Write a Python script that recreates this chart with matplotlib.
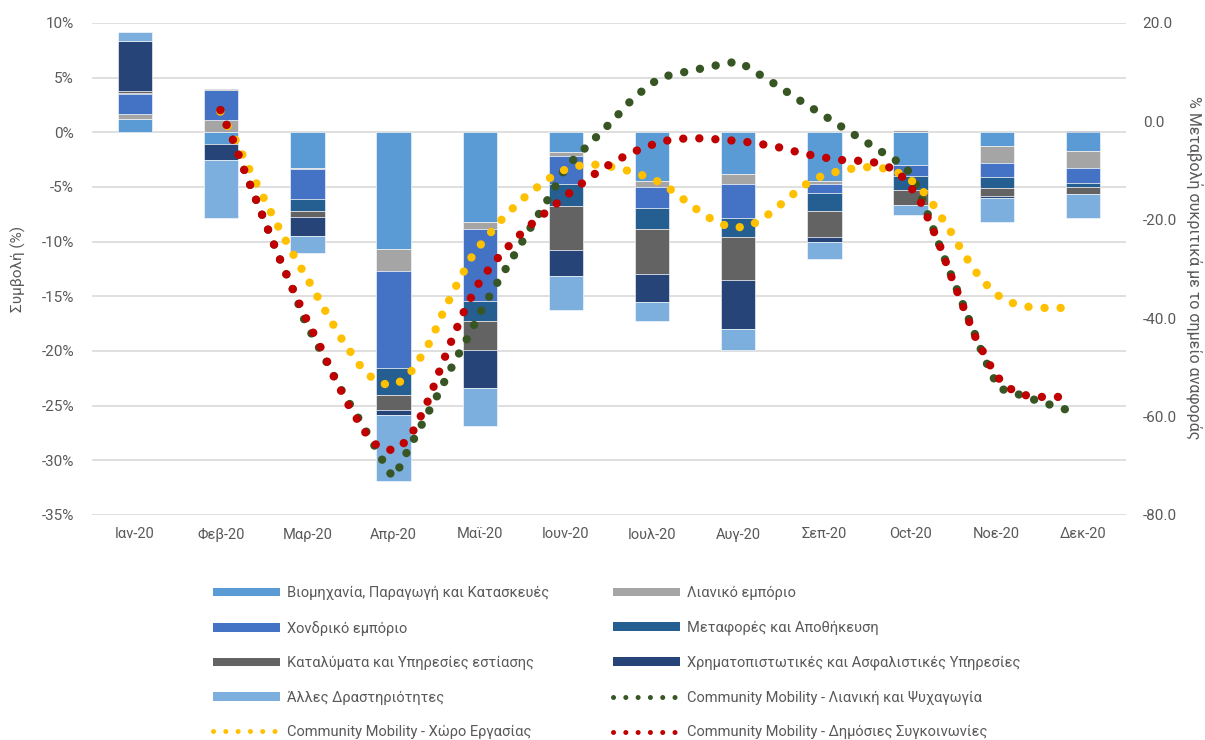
import matplotlib.pyplot as plt
import numpy as np
from matplotlib.patches import Patch
from matplotlib.lines import Line2D

plt.rcParams['font.family'] = ['Roboto', 'DejaVu Sans']

months = ['Ιαν-20', 'Φεβ-20', 'Μαρ-20', 'Απρ-20', 'Μαϊ-20', 'Ιουν-20',
          'Ιουλ-20', 'Αυγ-20', 'Σεπ-20', 'Oct-20', 'Νοε-20', 'Δεκ-20']

# contributions per sector (%)
industry = [1.22, -1.04, -3.26, -10.64, -8.2, -1.77, -4.42, -3.81, -4.42, -3.02, -1.22, -1.68]
retail = [0.49, 1.1, -0.12, -2.01, -0.61, -0.37, -0.58, -0.95, -0.3, 0.2, -1.62, -1.62]
wholesale = [1.77, 2.8, -2.74, -8.9, -6.62, -2.59, -1.92, -3.08, -0.82, -0.94, -1.25, -1.34]
transport = [0.15, 0.0, -1.04, -2.44, -1.83, -1.98, -1.89, -1.77, -1.62, -1.28, -0.98, -0.34]
hospitality = [0.12, 0.1, -0.61, -1.43, -2.68, -4.03, -4.12, -3.9, -2.38, -1.4, -0.73, -0.64]
finance = [4.6, -1.46, -1.71, -0.4, -3.41, -2.44, -2.56, -4.48, -0.46, 0.0, -0.24, 0.15]
other = [0.82, -5.34, -1.59, -6.1, -3.51, -3.05, -1.77, -1.92, -1.62, -0.92, -2.17, -2.26]

sectors = [
    ('Βιομηχανία, Παραγωγή και Κατασκευές', industry, '#5B9BD5'),
    ('Λιανικό εμπόριο', retail, '#A5A5A5'),
    ('Χονδρικό εμπόριο', wholesale, '#4472C4'),
    ('Μεταφορές και Αποθήκευση', transport, '#255E91'),
    ('Καταλύματα και Υπηρεσίες εστίασης', hospitality, '#636363'),
    ('Χρηματοπιστωτικές και Ασφαλιστικές Υπηρεσίες', finance, '#264478'),
    ('Άλλες Δραστηριότητες', other, '#7CAFDD'),
]

# community mobility (% change vs baseline), x in month positions
retail_x = [0.99, 1.14, 1.27, 1.41, 1.55, 1.69, 1.84, 1.97, 2.15, 2.24, 2.41, 2.61,
            2.80, 2.89, 2.99, 3.08, 3.16, 3.34, 3.52, 3.69, 3.87, 4.04, 4.23, 4.43,
            4.62, 4.82, 5.00, 5.27, 5.54, 5.79, 6.09, 6.26, 6.45, 6.64, 6.83, 7.00,
            7.17, 7.32, 7.49, 7.64, 7.80, 7.96, 8.12, 8.28, 8.44, 8.60, 8.76, 8.92,
            9.03, 9.17, 9.30, 9.44, 9.58, 9.72, 9.86, 10.02, 10.19, 10.37, 10.55,
            10.73, 10.91]
retail_y = [2.3, -3.9, -10.0, -16.2, -22.3, -28.4, -34.5, -40.6, -46.5, -49.5, -55.1, -60.8,
            -66.6, -69.5, -72.3, -70.0, -67.0, -61.2, -55.3, -49.4, -43.6, -37.7, -32.0, -26.3,
            -20.7, -15.0, -9.3, -4.6, 0.1, 4.9, 8.9, 9.6, 10.3, 11.0, 11.7, 12.2,
            10.4, 8.7, 6.9, 5.1, 3.3, 1.6, -0.2, -2.0, -3.7, -5.5, -7.2, -8.9,
            -11.4, -17.5, -23.6, -29.9, -36.0, -42.1, -48.3, -54.2, -55.1, -56.2, -57.2,
            -58.2, -59.1]

work_x = [0.99, 1.07, 1.17, 1.33, 1.50, 1.67, 1.85, 2.04, 2.22, 2.41, 2.63, 2.76,
          2.94, 3.11, 3.23, 3.33, 3.43, 3.58, 3.75, 3.93, 4.05, 4.29, 4.57, 4.87,
          5.04, 5.22, 5.41, 5.60, 5.78, 5.96, 6.13, 6.28, 6.43, 6.58, 6.74, 6.92,
          7.11, 7.28, 7.42, 7.57, 7.71, 7.87, 8.05, 8.23, 8.42, 8.61, 8.79, 8.96,
          9.11, 9.23, 9.33, 9.44, 9.53, 9.63, 9.73, 9.85, 9.98, 10.14, 10.32, 10.51,
          10.70, 10.88]
work_y = [2.0, -0.8, -3.9, -9.9, -15.8, -21.7, -27.5, -33.2, -38.9, -44.6, -50.1, -52.3,
          -53.7, -52.7, -50.3, -47.5, -44.6, -38.6, -32.6, -26.8, -24.2, -19.2, -14.6, -10.8,
          -9.4, -8.8, -8.8, -9.5, -10.3, -11.4, -12.7, -14.7, -16.7, -18.7, -20.4, -21.6,
          -21.4, -19.9, -17.9, -15.8, -13.7, -11.8, -10.6, -9.9, -9.3, -9.3, -9.9, -11.3,
          -13.5, -16.0, -18.8, -21.6, -24.4, -27.2, -30.0, -32.6, -35.0, -36.7, -37.6, -37.9,
          -37.9, -37.9]

transit_x = [0.99, 1.14, 1.27, 1.41, 1.55, 1.69, 1.84, 2.00, 2.17, 2.32, 2.50, 2.70,
             2.83, 3.01, 3.16, 3.26, 3.42, 3.55, 3.69, 3.84, 4.02, 4.26, 4.53, 4.82,
             5.11, 5.41, 5.75, 6.10, 6.28, 6.46, 6.66, 6.84, 7.03, 7.22, 7.41, 7.77,
             8.14, 8.52, 8.71, 8.87, 8.99, 9.10, 9.18, 9.33, 9.46, 9.60, 9.74, 9.91,
             10.01, 10.14, 10.31, 10.50, 10.88]
transit_y = [2.3, -3.9, -10.0, -16.2, -22.3, -28.4, -34.5, -40.6, -46.5, -52.4, -58.4, -64.0,
             -66.3, -66.9, -64.8, -62.0, -56.0, -49.9, -43.8, -37.7, -31.9, -26.7, -21.9, -17.7,
             -13.6, -9.7, -6.4, -4.1, -3.6, -3.4, -3.5, -3.8, -4.0, -4.5, -5.0, -6.6,
             -7.8, -8.1, -8.9, -10.6, -13.1, -15.8, -18.8, -24.8, -31.0, -37.2, -43.4, -49.2,
             -52.0, -54.2, -55.6, -56.0, -56.0]

mobility = [
    ('Community Mobility - Λιανική και Ψυχαγωγία', retail_x, retail_y, '#375623'),
    ('Community Mobility - Χώρο Εργασίας', work_x, work_y, '#FFC000'),
    ('Community Mobility - Δημόσιες Συγκοινωνίες', transit_x, transit_y, '#C00000'),
]

txt = '#595959'
fig = plt.figure(figsize=(12.05, 7.4), dpi=100)
ax = fig.add_axes([92 / 1205, 1 - 515 / 740, 1034 / 1205, 492 / 740])
x = np.arange(len(months))

# stack positives up and negatives down, in series order
pos = np.zeros(len(months))
neg = np.zeros(len(months))
handles = []
for name, vals, col in sectors:
    v = np.array(vals)
    base = np.where(v >= 0, pos, neg)
    ax.bar(x, v, 0.4, bottom=base, color=col, edgecolor='white', linewidth=0.4, zorder=2)
    pos += np.where(v >= 0, v, 0)
    neg += np.where(v < 0, v, 0)
    handles.append(Patch(facecolor=col, label=name))

ax.set_xlim(-0.5, 11.5)
ax.set_ylim(-35, 10)
ax.set_yticks(np.arange(-35, 11, 5))
ax.set_yticklabels([f'{t}%' for t in range(-35, 11, 5)])
ax.set_xticks(x)
ax.set_xticklabels(months)
ax.grid(axis='y', color='#D9D9D9', linewidth=1.2)
ax.set_axisbelow(True)
for s in ax.spines.values():
    s.set_visible(False)
ax.tick_params(axis='y', length=0, pad=13, labelsize=11, labelcolor=txt)
ax.tick_params(axis='x', length=0, pad=9, labelsize=10.5, labelcolor=txt)

ax2 = ax.twinx()
ax2.set_ylim(-80, 20)
ax2.set_yticks(np.arange(-80, 21, 20))
ax2.set_yticklabels([f'{t:.1f}' for t in range(-80, 21, 20)])
for s in ax2.spines.values():
    s.set_visible(False)
ax2.tick_params(axis='y', length=0, pad=12, labelsize=11, labelcolor=txt)

for name, mx, my, col in mobility:
    ax2.plot(mx, my, color=col, linewidth=6.0, dashes=(0.01, 1.92),
             dash_capstyle='round', zorder=3)
    handles.append(Line2D([0], [0], color=col, linewidth=3.6, dashes=(0.01, 2.45),
                          dash_capstyle='round', label=name))

fig.text(18 / 1205, 1 - 269 / 740, 'Συμβολή (%)', rotation=90, ha='center',
         va='center', fontsize=11, color=txt)
fig.text(1194 / 1205, 1 - 268 / 740, '% Μεταβολή συκριτικά με το σημείο αναφοράς',
         rotation=270, ha='center', va='center', fontsize=11.5, color=txt)

# legend fills column-wise, so reorder to read row by row
order = [0, 2, 4, 6, 8, 1, 3, 5, 7, 9]
leg = fig.legend([handles[i] for i in order], [handles[i].get_label() for i in order],
                 ncol=2, loc='upper left', bbox_to_anchor=(213 / 1205, 1 - 586 / 740),
                 frameon=False, fontsize=10.5, handlelength=4.6, handleheight=0.55,
                 handletextpad=0.45, columnspacing=4.4, labelspacing=1.4, borderpad=0,
                 borderaxespad=0)
for t in leg.get_texts():
    t.set_color(txt)

fig.savefig('out.png', dpi=100)
